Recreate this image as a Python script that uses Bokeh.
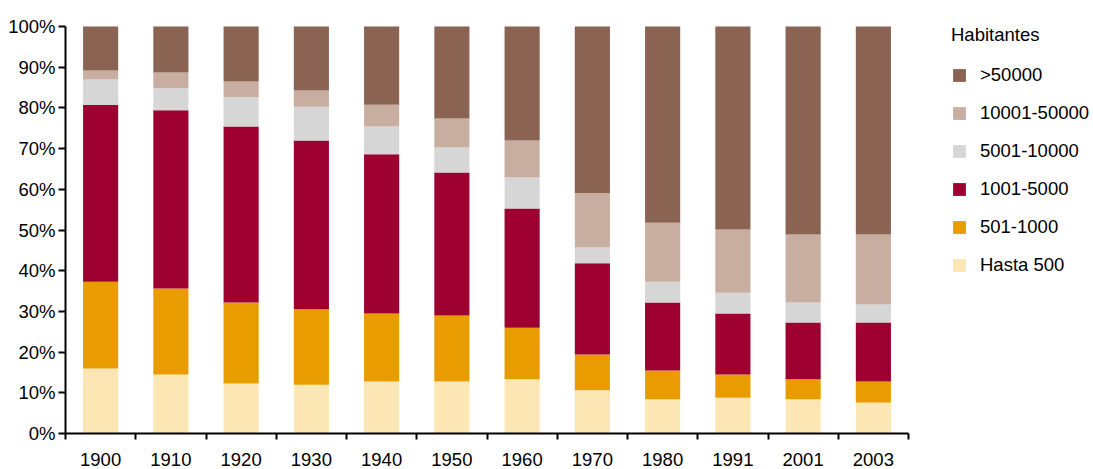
import numpy as np
from bokeh.plotting import figure
from bokeh.models import (ColumnDataSource, Range1d, FixedTicker, PrintfTickFormatter,
                          Legend, LegendItem)
from bokeh.embed import file_html
from bokeh.resources import INLINE

years = ["1900", "1910", "1920", "1930", "1940", "1950", "1960", "1970", "1980", "1991", "2001", "2003"]
hasta500 = [16.0, 14.5, 12.3, 12.0, 12.8, 12.8, 13.3, 10.6, 8.4, 8.8, 8.4, 7.6]
r501_1000 = [21.3, 21.1, 19.9, 18.5, 16.7, 16.2, 12.7, 8.8, 7.1, 5.7, 4.9, 5.2]
r1001_5000 = [43.5, 43.8, 43.2, 41.5, 39.1, 35.1, 29.3, 22.4, 16.7, 15.0, 14.0, 14.5]
r5001_10000 = [6.2, 5.4, 7.2, 8.3, 6.8, 6.2, 7.6, 3.9, 5.1, 5.1, 4.9, 4.4]
r10001_50000 = [2.2, 3.9, 3.9, 4.0, 5.4, 7.1, 9.1, 13.3, 14.5, 15.5, 16.7, 17.2]
gt50000 = [10.8, 11.3, 13.5, 15.7, 19.2, 22.6, 28.0, 41.0, 48.2, 49.9, 51.1, 51.1]

series_keys = ["h500", "r501", "r1001", "r5001", "r10001", "gt50"]
series_labels = ["Hasta 500", "501-1000", "1001-5000", "5001-10000", "10001-50000", ">50000"]
series_colors = ["#FCE6B4", "#E89C00", "#9E0031", "#D6D6D6", "#C8AEA0", "#8B6352"]

n = len(years)
xpos = np.arange(n)
source = ColumnDataSource(dict(
    x=xpos, h500=hasta500, r501=r501_1000, r1001=r1001_5000,
    r5001=r5001_10000, r10001=r10001_50000, gt50=gt50000))

FONT = "Liberation Sans"
FS = "18.5px"

W, H = 1093, 469
left, top_frame, bottom_px = 65, 10, 433
axis_right_px, axis_top_px = 908, 26
frame_w = W - left
frame_h = bottom_px - top_frame
x_end = -0.5 + n * frame_w / (axis_right_px - left)
y_end = 100.0 * frame_h / (bottom_px - axis_top_px)

p = figure(width=W, height=H, output_backend="svg", toolbar_location=None,
           x_range=Range1d(-0.5, x_end), y_range=Range1d(0, y_end),
           min_border_left=left, min_border_top=top_frame,
           min_border_bottom=H - bottom_px, min_border_right=0)
p.outline_line_color = None
p.xgrid.visible = False
p.ygrid.visible = False

renderers = p.vbar_stack(series_keys, x="x", width=0.5, source=source,
                         color=series_colors, line_color=None)

# y axis
ya = p.yaxis[0]
ya.bounds = (0, 100)
ya.ticker = FixedTicker(ticks=list(range(0, 101, 10)))
ya.formatter = PrintfTickFormatter(format="%d%%")
ya.axis_line_width = 2
ya.axis_line_color = "black"
ya.major_tick_line_width = 2
ya.major_tick_line_color = "black"
ya.major_tick_out = 7
ya.major_tick_in = 0
ya.minor_tick_line_color = None
ya.major_label_standoff = 3
ya.major_label_text_font = FONT
ya.major_label_text_font_size = FS
ya.major_label_text_color = "black"

# x axis: labels at centres, ticks at boundaries
xa = p.xaxis[0]
xa.bounds = (-0.5, n - 0.5)
xa.ticker = FixedTicker(ticks=list(range(n)), minor_ticks=[i - 0.5 for i in range(n + 1)])
xa.major_label_overrides = {i: years[i] for i in range(n)}
xa.axis_line_width = 2
xa.axis_line_color = "black"
xa.major_tick_line_color = None
xa.major_tick_out = 6
xa.major_tick_in = 0
xa.minor_tick_line_color = "black"
xa.minor_tick_line_width = 2
xa.minor_tick_out = 6
xa.minor_tick_in = 0
xa.major_label_standoff = 13
xa.major_label_text_font = FONT
xa.major_label_text_font_size = FS
xa.major_label_text_color = "black"

items = [LegendItem(label=series_labels[i], renderers=[renderers[i]]) for i in reversed(range(len(series_keys)))]
legend = Legend(items=items, title="Habitantes", location=(886, 157),
                border_line_color=None, background_fill_alpha=0,
                label_text_font=FONT, label_text_font_size=FS, label_text_color="black",
                title_text_font=FONT, title_text_font_size=FS, title_text_font_style="normal",
                title_text_color="black",
                glyph_width=16, glyph_height=16, label_standoff=13, spacing=16,
                padding=0, margin=0, title_standoff=18)
p.add_layout(legend, "center")

open("out.html", "w").write(file_html(p, INLINE))
